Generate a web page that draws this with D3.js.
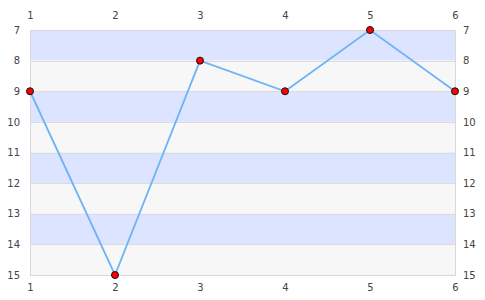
<!DOCTYPE html>
<html>
<head>
<meta charset="utf-8">
<script src="https://cdn.jsdelivr.net/npm/d3@7"></script>
<style>
  body { margin: 0; background: #fff; }
</style>
</head>
<body>
<script>
const xValues = [1, 2, 3, 4, 5, 6];
const yValues = [9, 15, 8, 9, 7, 9];
const yTicks = [7, 8, 9, 10, 11, 12, 13, 14, 15];

const W = 485, H = 300;
const margin = {top: 30, right: 30, bottom: 25, left: 30};

const svg = d3.select("body").append("svg")
    .attr("width", W).attr("height", H);

const x = d3.scaleLinear().domain([1, 6]).range([margin.left, W - margin.right]);
const y = d3.scaleLinear().domain([7, 15]).range([margin.top, H - margin.bottom]);

// bandes alternées
const bands = yTicks.slice(0, -1);
svg.append("g").selectAll("rect").data(bands).join("rect")
    .attr("x", x(1)).attr("width", x(6) - x(1))
    .attr("y", d => y(d)).attr("height", d => y(d + 1) - y(d))
    .attr("fill", (d, i) => i % 2 === 0 ? "#dde4ff" : "#f7f7f7");

// lignes de grille
svg.append("g").selectAll("line").data(yTicks.slice(1, -1)).join("line")
    .attr("x1", x(1)).attr("x2", x(6))
    .attr("y1", d => Math.round(y(d)) + 0.5).attr("y2", d => Math.round(y(d)) + 0.5)
    .attr("stroke", "#dcdcdc");

svg.append("rect")
    .attr("x", x(1) + 0.5).attr("y", y(7) + 0.5)
    .attr("width", x(6) - x(1)).attr("height", y(15) - y(7))
    .attr("fill", "none").attr("stroke", "#d8d8d8");

// axes
const fmt = d3.format("d");
const axes = [
  d3.axisTop(x).tickValues(xValues).tickFormat(fmt).tickSize(0).tickPadding(11),
  d3.axisBottom(x).tickValues(xValues).tickFormat(fmt).tickSize(0).tickPadding(9),
  d3.axisLeft(y).tickValues(yTicks).tickFormat(fmt).tickSize(0).tickPadding(10),
  d3.axisRight(y).tickValues(yTicks).tickFormat(fmt).tickSize(0).tickPadding(8)
];
const pos = [
  `translate(0,${margin.top})`, `translate(0,${H - margin.bottom})`,
  `translate(${margin.left},0)`, `translate(${W - margin.right},0)`
];
axes.forEach((a, i) => {
  const g = svg.append("g").attr("transform", pos[i]).call(a);
  g.select(".domain").remove();
  g.selectAll("text").style("font-family", "DejaVu Sans, sans-serif").style("font-size", "10px").attr("fill", "#444");
});

// ligne
const data = xValues.map((d, i) => ({x: d, y: yValues[i]}));
svg.append("path").datum(data)
    .attr("d", d3.line().x(d => x(d.x)).y(d => y(d.y)))
    .attr("fill", "none").attr("stroke", "#6eb3f5").attr("stroke-width", 1.8);

svg.append("g").selectAll("circle").data(data).join("circle")
    .attr("cx", d => x(d.x)).attr("cy", d => y(d.y)).attr("r", 3.5)
    .attr("fill", "#ff0000").attr("stroke", "#111").attr("stroke-width", 1);
</script>
</body>
</html>
